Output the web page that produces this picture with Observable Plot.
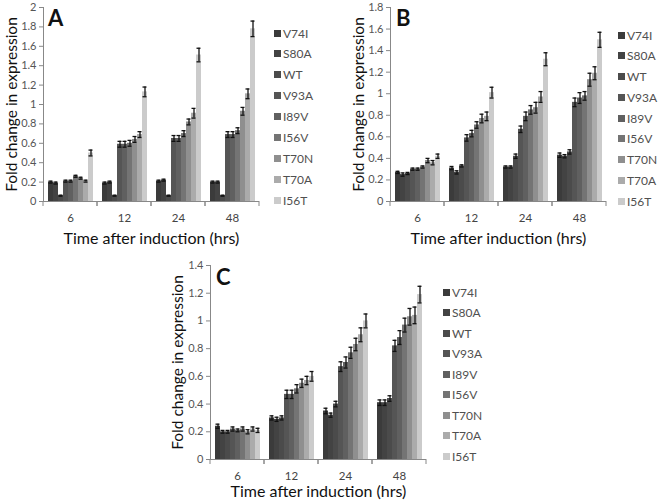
<!DOCTYPE html>
<html><head><meta charset="utf-8">
<script src="https://cdn.jsdelivr.net/npm/d3@7"></script>
<script src="https://cdn.jsdelivr.net/npm/@observablehq/plot@0.6"></script>
<style>
body{margin:0;background:#fff;}
#root{position:relative;width:661px;height:504px;overflow:hidden;font-family:Lato,"Open Sans",sans-serif;background:#fff;}
.panel{position:absolute;}
.legend{position:absolute;font-size:12px;color:#505050;}
.legend .item{position:absolute;left:0;white-space:nowrap;display:flex;align-items:center;height:14px;margin-top:-7px;}
.legend .sw{width:7px;height:7px;margin-right:2px;}
.letter{position:absolute;font-weight:bold;font-size:22px;color:#111;line-height:22px;}
svg [aria-label="y-axis label"]{font-size:15.5px;fill:#111;}
svg [aria-label="fx-axis label"]{font-size:16px;fill:#111;}
svg [aria-label="y-axis tick label"]{font-size:11px;fill:#555;}
svg [aria-label="fx-axis tick label"]{font-size:11.5px;fill:#444;}
</style></head><body><div id="root"></div>
<script>
const times = ["6", "12", "24", "48"];
const series = ["V74I", "S80A", "WT", "V93A", "I89V", "I56V", "T70N", "T70A", "I56T"];
const seriesColors = ["#3b3b3b", "#434343", "#4b4b4b", "#555555", "#606060", "#747474", "#8f8f8f", "#ababab", "#cbcbcb"];

// Panel A (rows = time points 6,12,24,48; columns = series)
const valuesA = [
  [0.20, 0.19, 0.06, 0.21, 0.21, 0.26, 0.24, 0.21, 0.50],
  [0.19, 0.20, 0.06, 0.59, 0.59, 0.60, 0.64, 0.69, 1.13],
  [0.21, 0.22, 0.06, 0.65, 0.65, 0.70, 0.82, 0.91, 1.51],
  [0.20, 0.20, 0.06, 0.69, 0.69, 0.73, 0.93, 1.11, 1.78]
];
const errorsA = [
  [0.01, 0.01, 0.005, 0.01, 0.01, 0.01, 0.01, 0.01, 0.03],
  [0.01, 0.01, 0.005, 0.03, 0.03, 0.03, 0.03, 0.03, 0.05],
  [0.01, 0.01, 0.005, 0.03, 0.03, 0.03, 0.03, 0.05, 0.07],
  [0.01, 0.01, 0.005, 0.03, 0.03, 0.03, 0.04, 0.05, 0.08]
];
const yTicksA = [0, 0.2, 0.4, 0.6, 0.8, 1, 1.2, 1.4, 1.6, 1.8, 2];

// Panel B
const valuesB = [
  [0.27, 0.25, 0.26, 0.30, 0.30, 0.32, 0.38, 0.36, 0.42],
  [0.31, 0.27, 0.33, 0.59, 0.63, 0.71, 0.77, 0.79, 1.01],
  [0.32, 0.32, 0.42, 0.67, 0.79, 0.85, 0.87, 0.97, 1.32],
  [0.43, 0.42, 0.46, 0.92, 0.96, 0.98, 1.13, 1.19, 1.50]
];
const errorsB = [
  [0.01, 0.015, 0.01, 0.01, 0.01, 0.01, 0.02, 0.02, 0.02],
  [0.015, 0.015, 0.01, 0.03, 0.03, 0.03, 0.04, 0.04, 0.05],
  [0.01, 0.01, 0.02, 0.03, 0.04, 0.04, 0.05, 0.05, 0.06],
  [0.02, 0.015, 0.02, 0.04, 0.05, 0.04, 0.06, 0.06, 0.07]
];
const yTicksB = [0, 0.2, 0.4, 0.6, 0.8, 1, 1.2, 1.4, 1.6, 1.8];

// Panel C
const valuesC = [
  [0.24, 0.20, 0.20, 0.22, 0.21, 0.22, 0.20, 0.22, 0.21],
  [0.30, 0.29, 0.30, 0.47, 0.47, 0.51, 0.55, 0.57, 0.60],
  [0.35, 0.32, 0.40, 0.67, 0.70, 0.77, 0.83, 0.90, 1.00],
  [0.41, 0.41, 0.44, 0.82, 0.88, 0.97, 1.03, 1.04, 1.19]
];
const errorsC = [
  [0.015, 0.01, 0.01, 0.015, 0.01, 0.015, 0.015, 0.015, 0.015],
  [0.015, 0.015, 0.015, 0.03, 0.03, 0.03, 0.03, 0.03, 0.035],
  [0.02, 0.015, 0.02, 0.035, 0.04, 0.04, 0.045, 0.05, 0.05],
  [0.02, 0.02, 0.02, 0.04, 0.05, 0.05, 0.06, 0.06, 0.06]
];
const yTicksC = [0, 0.2, 0.4, 0.6, 0.8, 1, 1.2, 1.4];

const axisColor = "#888";

function table(values, errors) {
  return times.flatMap((t, i) => series.map((s, j) => ({time: t, series: s, value: values[i][j], err: errors[i][j]})));
}

// short tick marks at the boundaries of each category group (Excel style)
function boundaryTicks(index, scales, values, dimensions) {
  const {marginLeft, marginRight, width} = dimensions;
  const y0 = scales.y(0);
  const g = d3.create("svg:g").attr("stroke", axisColor).attr("aria-label", "group ticks");
  for (const x of [marginLeft, width - marginRight]) {
    g.append("line").attr("x1", x).attr("x2", x).attr("y1", y0).attr("y2", y0 + 5);
  }
  return g.node();
}

function panel(cfg) {
  const data = table(cfg.values, cfg.errors);
  return Plot.plot({
    width: cfg.width, height: cfg.height,
    marginLeft: cfg.marginLeft, marginRight: cfg.marginRight,
    marginTop: cfg.marginTop, marginBottom: cfg.marginBottom,
    style: {fontFamily: "Lato, 'Open Sans', sans-serif", fontSize: "11px", background: "transparent", overflow: "visible"},
    fx: {domain: times, padding: 0, label: null},
    x: {domain: series, paddingInner: 0, paddingOuter: 0.65, axis: null},
    y: {domain: [0, cfg.yMax]},
    color: {domain: series, range: seriesColors},
    marks: [
      Plot.axisY({ticks: cfg.yTicks, tickFormat: d => String(+d.toFixed(1)), tickSize: 4, tickPadding: 3, stroke: axisColor,
        label: "Fold change in expression", labelAnchor: "center", labelOffset: cfg.labelOffsetY, labelArrow: "none"}),
      Plot.axisFx({anchor: "bottom", tickSize: 0, tickPadding: 12, label: "Time after induction (hrs)",
        labelAnchor: "center", labelOffset: cfg.labelOffsetX, labelArrow: "none"}),
      Plot.barY(data, {fx: "time", x: "series", y: "value", fill: "series"}),
      Plot.ruleX(data, {fx: "time", x: "series", y1: d => d.value - d.err, y2: d => d.value + d.err, stroke: "#111", strokeWidth: 1.3}),
      Plot.tickY(data, {fx: "time", x: "series", y: d => d.value + d.err, stroke: "#111", strokeWidth: 1.3, insetLeft: 0.5, insetRight: 0.5}),
      Plot.tickY(data, {fx: "time", x: "series", y: d => d.value - d.err, stroke: "#111", strokeWidth: 1.3, insetLeft: 0.5, insetRight: 0.5}),
      Plot.ruleY([0], {stroke: axisColor}),
      Plot.frame({anchor: "left", facetAnchor: "left", stroke: axisColor}),
      boundaryTicks
    ]
  });
}

const root = document.getElementById("root");

function place(el, left, top) {
  el.classList.add("panel");
  el.style.left = left + "px";
  el.style.top = top + "px";
  root.appendChild(el);
}

function legend(left, top, spacing) {
  const div = document.createElement("div");
  div.className = "legend";
  div.style.left = left + "px";
  div.style.top = top + "px";
  series.forEach((s, i) => {
    const item = document.createElement("div");
    item.className = "item";
    item.style.top = (i * spacing) + "px";
    const sw = document.createElement("span");
    sw.className = "sw";
    sw.style.background = seriesColors[i];
    const tx = document.createElement("span");
    tx.textContent = s;
    item.appendChild(sw);
    item.appendChild(tx);
    div.appendChild(item);
  });
  root.appendChild(div);
}

function letter(t, left, top) {
  const d = document.createElement("div");
  d.className = "letter";
  d.textContent = t;
  d.style.left = left + "px";
  d.style.top = top + "px";
  root.appendChild(d);
}

place(panel({values: valuesA, errors: errorsA, yMax: 2, yTicks: yTicksA, width: 262, height: 252,
  marginLeft: 43, marginRight: 3, marginTop: 7, marginBottom: 51, labelOffsetY: 38, labelOffsetX: 42}), 0, 0);
place(panel({values: valuesB, errors: errorsB, yMax: 1.8, yTicks: yTicksB, width: 274, height: 252,
  marginLeft: 54, marginRight: 3, marginTop: 7, marginBottom: 51, labelOffsetY: 38, labelOffsetX: 42}), 335, 0);
place(panel({values: valuesC, errors: errorsC, yMax: 1.4, yTicks: yTicksC, width: 269, height: 246,
  marginLeft: 50, marginRight: 3, marginTop: 7, marginBottom: 45, labelOffsetY: 39, labelOffsetX: 37}), 160, 258);

legend(274, 33, 20.9);
legend(618, 35, 20.75);
legend(443, 292, 20.5);

letter("A", 48, 7);
letter("B", 396, 7);
letter("C", 216, 266);
</script></body></html>
